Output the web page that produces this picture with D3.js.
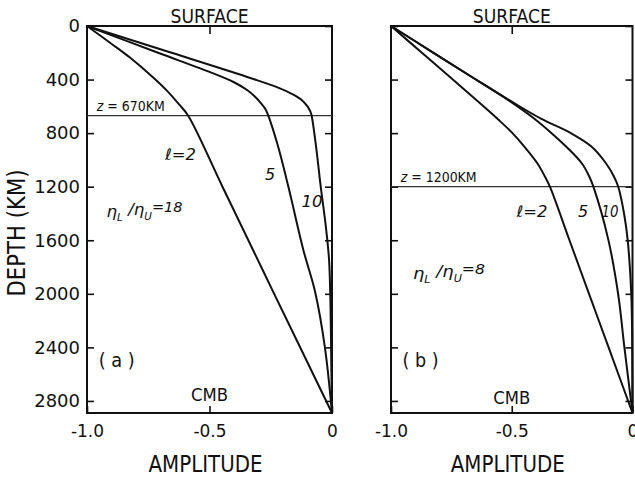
<!DOCTYPE html>
<html>
<head>
<meta charset="utf-8">
<script src="https://cdn.jsdelivr.net/npm/d3@7"></script>
<style>
body{margin:0;background:#fff;}
text{font-family:"DejaVu Sans",sans-serif;fill:#111;}
</style>
</head>
<body>
<svg id="chart" width="635" height="479"></svg>
<script>
// depth ticks (km) and amplitude ticks
var depthTicks = [0, 400, 800, 1200, 1600, 2000, 2400, 2800];
var ampTicks = [-1, -0.5, 0];
var cmbDepth = 2890;

// panel (a): boundary at 670 km, viscosity ratio 18
var boundaryA = 670;
var depthA2 = [0, 134, 234, 383, 483, 582, 670, 1200, 2000, 2890];
var ampA2 = [-1, -0.899, -0.826, -0.731, -0.674, -0.626, -0.587, -0.447, -0.236, 0];
var depthA5 = [0, 200, 350, 420, 480, 527, 570, 620, 670, 900, 1200, 1672, 1985, 2400, 2890];
var ampA5 = [-1, -0.71, -0.49, -0.40, -0.345, -0.315, -0.293, -0.272, -0.26, -0.22, -0.178, -0.117, -0.069, -0.029, 0];
var depthA10 = [0, 200, 390, 460, 510, 550, 600, 640, 670, 900, 1200, 1500, 1746, 2100, 2500, 2890];
var ampA10 = [-1, -0.655, -0.33, -0.22, -0.16, -0.125, -0.10, -0.088, -0.083, -0.065, -0.046, -0.025, -0.012, -0.006, -0.003, 0];

// panel (b): boundary at 1200 km, viscosity ratio 8
var boundaryB = 1200;
var depthB2 = [0, 200, 400, 600, 700, 800, 900, 1025, 1120, 1200, 1600, 2000, 2400, 2890];
var ampB2 = [-1, -0.872, -0.744, -0.617, -0.555, -0.497, -0.448, -0.394, -0.364, -0.342, -0.261, -0.18, -0.099, 0];
var depthB5 = [0, 200, 390, 565, 694, 800, 900, 1025, 1120, 1200, 1597, 2007, 2393, 2890];
var ampB5 = [-1, -0.824, -0.657, -0.505, -0.405, -0.335, -0.275, -0.21, -0.18, -0.162, -0.10, -0.059, -0.034, 0];
var depthB10 = [0, 200, 390, 565, 694, 800, 900, 1025, 1120, 1200, 1400, 1597, 2007, 2400, 2890];
var ampB10 = [-1, -0.824, -0.657, -0.50, -0.377, -0.255, -0.17, -0.11, -0.078, -0.059, -0.035, -0.02, -0.005, -0.001, 0];

var svg = d3.select("#chart");

function zip(depths, amps){
	return depths.map(function(d, i){ return [d, amps[i]]; });
}

function label(g, x, y, str, size, opts){
	opts = opts || {};
	var t = g.append("text")
		.attr("x", x)
		.attr("y", y)
		.attr("font-size", size)
		.attr("text-anchor", opts.anchor || "start")
		.text(str);
	if(opts.len){
		t.attr("textLength", opts.len).attr("lengthAdjust", "spacingAndGlyphs");
	}
	if(opts.italic){
		t.attr("font-style", "italic");
	}
	return t;
}

// eta_L / eta_U = n, drawn with tspans
function ratioLabel(g, x, y, value, len){
	var t = g.append("text")
		.attr("x", x)
		.attr("y", y)
		.attr("font-size", 16)
		.attr("font-style", "italic")
		.attr("textLength", len)
		.attr("lengthAdjust", "spacingAndGlyphs");
	t.append("tspan").text("\u03B7");
	t.append("tspan").attr("font-size", 10).attr("dy", 4).text("L");
	t.append("tspan").attr("dy", -6).text(" /\u03B7");
	t.append("tspan").attr("font-size", 10).attr("dy", 5).text("U");
	t.append("tspan").attr("font-size", 14).attr("dy", -8).text("=" + value);
}

function drawPanel(p){
	var x = d3.scaleLinear().domain([-1, 0]).range([p.left, p.right]);
	var y = d3.scaleLinear().domain([0, cmbDepth]).range([26, 413]);
	var g = svg.append("g");

	//frame
	g.append("rect")
		.attr("x", x(-1))
		.attr("y", y(0))
		.attr("width", x(0) - x(-1))
		.attr("height", y(cmbDepth) - y(0))
		.attr("fill", "none")
		.attr("stroke", "#111")
		.attr("stroke-width", 2);

	//inward ticks on all four sides
	var left = g.append("g")
		.attr("transform", "translate(" + x(-1) + ",0)")
		.call(d3.axisLeft(y).tickValues(depthTicks).tickSizeInner(-7).tickSizeOuter(0).tickPadding(7)
			.tickFormat(p.depthLabels ? d3.format("d") : ""));
	var right = g.append("g")
		.attr("transform", "translate(" + x(0) + ",0)")
		.call(d3.axisRight(y).tickValues(depthTicks).tickSizeInner(-7).tickSizeOuter(0).tickFormat(""));
	var top = g.append("g")
		.attr("transform", "translate(0," + y(0) + ")")
		.call(d3.axisTop(x).tickValues([-0.5]).tickSizeInner(-8).tickSizeOuter(0).tickFormat(""));
	var bottom = g.append("g")
		.attr("transform", "translate(0," + y(cmbDepth) + ")")
		.call(d3.axisBottom(x).tickValues(ampTicks).tickSizeInner(-7).tickSizeOuter(0).tickPadding(12)
			.tickFormat(function(d){ return d === 0 ? "0" : d.toFixed(1); }));

	[left, right, top, bottom].forEach(function(a){
		a.select(".domain").remove();
		a.selectAll(".tick line").attr("stroke", "#111").attr("stroke-width", 1.6);
		a.attr("font-family", null).attr("font-size", null);
		a.selectAll("text").attr("font-size", 17).attr("fill", "#111");
	});
	left.selectAll("text").attr("font-size", 18);

	//boundary between upper and lower mantle
	g.append("line")
		.attr("x1", x(-1))
		.attr("x2", x(0))
		.attr("y1", y(p.boundary))
		.attr("y2", y(p.boundary))
		.attr("stroke", "#333")
		.attr("stroke-width", 1.3);

	//eigenfunction curves
	var line = d3.line()
		.x(function(d){ return x(d[1]); })
		.y(function(d){ return y(d[0]); })
		.curve(d3.curveCatmullRom.alpha(0.5));
	p.series.forEach(function(s){
		g.append("path")
			.datum(s)
			.attr("d", line)
			.attr("fill", "none")
			.attr("stroke", "#111")
			.attr("stroke-width", 2);
	});

	//texts
	label(g, x(-0.5), y(0) - 3, "SURFACE", 20, {anchor: "middle", len: 78});
	label(g, x(-0.5), y(p.cmbText), "CMB", 18, {anchor: "middle", len: 37});
	label(g, x(-0.5) - 4, 472, "AMPLITUDE", 23, {anchor: "middle", len: 114});
	var z = g.append("text")
		.attr("x", x(-0.96))
		.attr("y", y(p.boundary) - 5)
		.attr("font-size", 14)
		.attr("textLength", p.zLen)
		.attr("lengthAdjust", "spacingAndGlyphs");
	z.append("tspan").attr("font-style", "italic").text("z");
	z.append("tspan").text(" = " + p.boundary + "KM");
	label(g, x(-0.952), y(2548), "( " + p.name + " )", 19, {len: 36});
	ratioLabel(g, x(p.ratioAt[0]), y(p.ratioAt[1]), p.ratio, p.ratioLen);
	p.curveLabels.forEach(function(c){
		label(g, x(c[1]), y(c[2]), c[0], 16, {italic: true, len: c[3]});
	});
}

drawPanel({
	name: "a", left: 87, right: 332, depthLabels: true, boundary: boundaryA, zLen: 68,
	series: [zip(depthA2, ampA2), zip(depthA5, ampA5), zip(depthA10, ampA10)],
	cmbText: 2804, ratio: 18, ratioAt: [-0.92, 1425], ratioLen: 76,
	curveLabels: [["\u2113=2", -0.682, 1000, 31], ["5", -0.273, 1149], ["10", -0.124, 1351, 21]]
});
drawPanel({
	name: "b", left: 391, right: 632.5, depthLabels: false, boundary: boundaryB, zLen: 76,
	series: [zip(depthB2, ampB2), zip(depthB5, ampB5), zip(depthB10, ampB10)],
	cmbText: 2821, ratio: 8, ratioAt: [-0.909, 1888], ratioLen: 72,
	curveLabels: [["\u2113=2", -0.48, 1423, 31], ["5", -0.226, 1425], ["10", -0.128, 1425, 17]]
});

//shared y title
svg.append("text")
	.attr("transform", "translate(25,233) rotate(-90)")
	.attr("text-anchor", "middle")
	.attr("font-size", 24)
	.attr("textLength", 127)
	.attr("lengthAdjust", "spacingAndGlyphs")
	.text("DEPTH (KM)");
</script>
</body>
</html>
